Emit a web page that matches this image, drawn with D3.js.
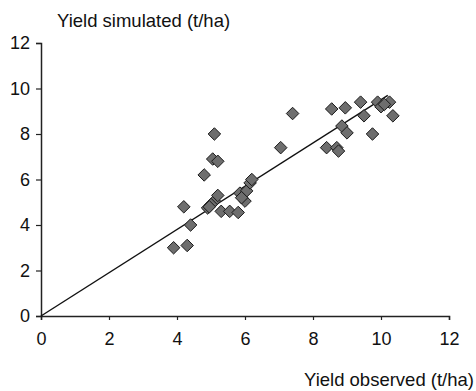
<!DOCTYPE html>
<html>
<head>
<meta charset="utf-8">
<script src="https://cdn.jsdelivr.net/npm/d3@7"></script>
<style>
  body { margin: 0; background: #fff; }
  text { font-family: "Liberation Sans", Arial, sans-serif; fill: #111; }
</style>
</head>
<body>
<script>
// observed vs simulated yield (t/ha)
var observed = [3.9, 4.3, 4.2, 4.4, 4.8, 5.1, 5.05, 5.2, 4.9, 5.1, 5.2, 5.3, 5.55, 5.8,
    5.85, 6.0, 6.05, 6.15, 6.2, 5.0, 4.95, 5.9, 7.05, 7.4, 8.4, 8.7, 8.75, 8.55, 8.95,
    8.85, 9.0, 9.4, 9.5, 9.75, 9.9, 10.0, 10.25, 10.35, 10.1];
var simulated = [3.0, 3.1, 4.8, 4.0, 6.2, 8.0, 6.9, 6.8, 4.75, 5.05, 5.3, 4.6, 4.6, 4.55,
    5.4, 5.05, 5.5, 5.85, 6.0, 4.9, 4.8, 5.2, 7.4, 8.9, 7.4, 7.4, 7.25, 9.1, 9.15,
    8.35, 8.05, 9.4, 8.8, 8.0, 9.4, 9.2, 9.4, 8.8, 9.3];
var fitX = [0, 10.2];
var fitY = [0, 9.7];
var xTicks = [0, 2, 4, 6, 8, 10, 12];
var yTicks = [0, 2, 4, 6, 8, 10, 12];

var width = 476;
var height = 391;

var svg = d3.select('body')
    .append('svg')
    .attr('width', width)
    .attr('height', height);

var x = d3.scaleLinear().domain([0, 12]).range([41, 449]);
var y = d3.scaleLinear().domain([0, 12]).range([316, 43]);

// axes
var xAxis = svg.append('g')
    .attr('transform', 'translate(0,' + y(0) + ')')
    .call(d3.axisBottom(x).tickValues(xTicks).tickSize(4).tickPadding(12));
var yAxis = svg.append('g')
    .attr('transform', 'translate(' + x(0) + ',0)')
    .call(d3.axisLeft(y).tickValues(yTicks).tickSize(5).tickPadding(6));

[xAxis, yAxis].forEach(function (g) {
    g.selectAll('path').attr('stroke', '#222').attr('stroke-width', 1.5);
    g.selectAll('line').attr('stroke', '#222').attr('stroke-width', 1.2);
    g.selectAll('text')
        .attr('font-size', '18px')
        .attr('font-family', '"Liberation Sans", Arial, sans-serif')
        .attr('fill', '#111');
});

// fitted line
svg.append('path')
    .datum(d3.zip(fitX, fitY))
    .attr('d', d3.line()
        .x(function (d) { return x(d[0]); })
        .y(function (d) { return y(d[1]); }))
    .attr('stroke', '#111')
    .attr('stroke-width', 1.4)
    .attr('fill', 'none');

// diamonds
svg.selectAll('path.pt')
    .data(d3.zip(observed, simulated))
    .enter()
    .append('path')
    .attr('class', 'pt')
    .attr('d', d3.symbol().type(d3.symbolDiamond2).size(100))
    .attr('transform', function (d) {
        return 'translate(' + x(d[0]) + ',' + y(d[1]) + ')';
    })
    .attr('fill', '#6e6e6e')
    .attr('stroke', '#1a1a1a')
    .attr('stroke-width', 1);

// axis titles
svg.append('text')
    .attr('x', 57)
    .attr('y', 27)
    .attr('font-size', '18.5px')
    .text('Yield simulated (t/ha)');

svg.append('text')
    .attr('x', 474)
    .attr('y', 386)
    .attr('text-anchor', 'end')
    .attr('font-size', '18.5px')
    .text('Yield observed (t/ha)');
</script>
</body>
</html>
